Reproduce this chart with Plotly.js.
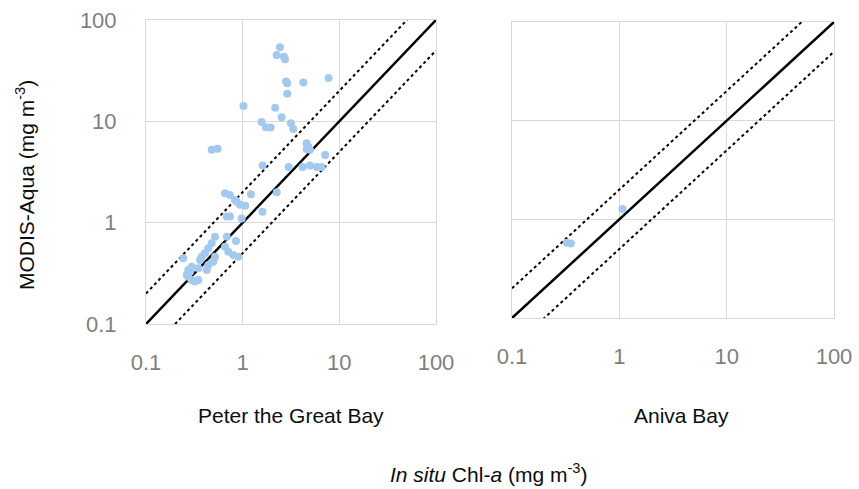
<!DOCTYPE html>
<html>
<head>
<meta charset="utf-8">
<script src="https://cdn.plot.ly/plotly-3.0.1.min.js"></script>
<style>html,body{margin:0;padding:0;background:#fff;}#chart{width:859px;height:489px;}</style>
</head>
<body>
<div id="chart"></div>
<script>
// Peter the Great Bay: in situ Chl-a (x) vs MODIS-Aqua (y), mg m-3
var peterX = [2.43, 2.25, 2.67, 2.74, 7.74, 2.81, 2.89, 4.24, 2.89, 1.02,
              2.17, 2.53, 1.57, 1.74, 1.95, 3.16, 3.34, 0.478, 0.551, 4.59,
              4.77, 4.59, 4.96, 7.14, 1.61, 2.99, 4.17, 4.96, 5.82, 6.56,
              0.656, 0.74, 0.832, 0.867, 1.22, 2.25, 0.937, 1.06, 0.684, 0.74,
              0.977, 1.60, 0.517, 0.684, 0.853, 0.478, 0.441, 0.407, 0.656, 0.710,
              0.800, 0.900, 0.377, 0.362, 0.517, 0.497, 0.243, 0.297, 0.274, 0.264,
              0.285, 0.348, 0.425, 0.441, 0.297, 0.321, 0.348, 0.274];
var peterY = [53.9, 45.2, 43.5, 41.0, 26.8, 24.7, 23.8, 24.1, 18.7, 14.2,
              13.6, 11.0, 9.86, 8.75, 8.67, 9.57, 8.42, 5.23, 5.35, 6.08,
              5.62, 5.34, 5.23, 4.66, 3.66, 3.55, 3.55, 3.66, 3.55, 3.55,
              1.95, 1.87, 1.67, 1.61, 1.91, 2.0, 1.50, 1.47, 1.15, 1.15,
              1.10, 1.28, 0.728, 0.728, 0.660, 0.627, 0.559, 0.499, 0.580, 0.517,
              0.480, 0.462, 0.462, 0.428, 0.462, 0.412, 0.446, 0.368, 0.341, 0.305,
              0.328, 0.355, 0.341, 0.382, 0.272, 0.262, 0.272, 0.293];
// Aniva Bay
var anivaX = [0.324, 0.354, 1.07];
var anivaY = [0.578, 0.570, 1.27];

// reference lines: 1:1 and factor-of-2 bounds
var refX = [0.1, 100];
var refFactors = [1, 2, 0.5];

var tickVals = [0.1, 1, 10, 100];
var tickText = ['0.1', '1', '10', '100'];

var panelTitles = ['Peter the Great Bay', 'Aniva Bay'];
var xTitle = '<i>In situ</i> Chl-<i>a</i> (mg m<sup>-3</sup>)';
var yTitle = 'MODIS-Aqua (mg m<sup>-3</sup>)';

var ptColor = '#a4c9ee';
var traces = [];
['', '2'].forEach(function (s, i) {
  refFactors.forEach(function (f) {
    traces.push({
      x: refX, y: refX.map(function (v) { return v * f; }),
      xaxis: 'x' + s, yaxis: 'y' + s, mode: 'lines', hoverinfo: 'skip',
      line: f === 1 ? {color: '#000', width: 2.5} : {color: '#000', width: 2, dash: 'dot'}
    });
  });
});
traces.push({x: peterX, y: peterY, xaxis: 'x', yaxis: 'y', mode: 'markers', type: 'scatter',
  marker: {color: ptColor, size: 8}});
traces.push({x: anivaX, y: anivaY, xaxis: 'x2', yaxis: 'y2', mode: 'markers', type: 'scatter',
  marker: {color: ptColor, size: 8}});

var tickFont = {family: 'Liberation Sans Narrow, Arial Narrow, Liberation Sans, Arial', size: 22, color: '#7f7f7f'};
var txtFont = {family: 'Liberation Sans, Arial, sans-serif', size: 21, color: '#0d0d0d'};

function ax(domain, anchor, showLabels, standoff) {
  return {
    type: 'log', range: [-1, 2], domain: domain, anchor: anchor,
    tickmode: 'array', tickvals: tickVals, ticktext: tickText,
    showgrid: true, gridcolor: '#d9d9d9', gridwidth: 1,
    showline: true, linecolor: '#d9d9d9', linewidth: 1, mirror: true,
    zeroline: false, ticks: '', showticklabels: showLabels,
    tickfont: tickFont, ticklabelstandoff: standoff, fixedrange: true
  };
}

var layout = {
  width: 859, height: 489,
  margin: {l: 0, r: 0, t: 0, b: 0},
  paper_bgcolor: '#fff', plot_bgcolor: '#fff',
  showlegend: false,
  xaxis: ax([146/859, 436/859], 'y', true, 19),
  yaxis: ax([(489-324)/489, (489-20)/489], 'x', true, 24),
  xaxis2: ax([512/859, 834/859], 'y2', true, 19),
  yaxis2: ax([(489-318)/489, (489-22)/489], 'x2', false, 24),
  annotations: [
    {text: panelTitles[0], x: 291/859, y: (489-415)/489, xref: 'paper', yref: 'paper', showarrow: false, font: txtFont, xanchor: 'center', yanchor: 'middle'},
    {text: panelTitles[1], x: 681/859, y: (489-415)/489, xref: 'paper', yref: 'paper', showarrow: false, font: txtFont, xanchor: 'center', yanchor: 'middle'},
    {text: xTitle, x: 488/859, y: (489-473)/489, xref: 'paper', yref: 'paper', showarrow: false, font: txtFont, xanchor: 'center', yanchor: 'middle'},
    {text: yTitle, x: 25/859, y: (489-185)/489, xref: 'paper', yref: 'paper', showarrow: false, font: txtFont, textangle: -90, xanchor: 'center', yanchor: 'middle'}
  ]
};

Plotly.newPlot('chart', traces, layout, {staticPlot: true, displayModeBar: false});
</script>
</body>
</html>
